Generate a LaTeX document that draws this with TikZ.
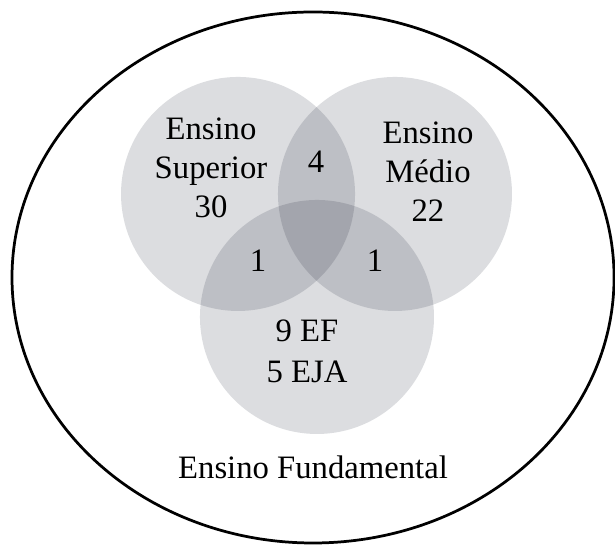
\documentclass[tikz,border=0pt]{standalone}
\usepackage{fontspec}
\setmainfont{Liberation Serif}
\usepackage{tikz}
\definecolor{venngray}{RGB}{5,12,33}

\begin{document}
\begin{tikzpicture}[
	conj/.style={fill=venngray, fill opacity=0.14},
	rotulo/.style={align=center, anchor=base, font=\fontsize{15.5}{18.5}\selectfont}
	]
	\useasboundingbox (0,0) rectangle (10.25,9.1);
	\coordinate (O) at (5.217,4.475);
	\coordinate (S) at (3.967,5.867);
	\coordinate (M) at (6.583,5.867);
	\coordinate (F) at (5.283,3.817);
	
	\draw[line width=1.3pt] (O) ellipse [x radius=5.017, y radius=4.425];
	
	\fill[conj] (S) circle (1.95);
	\fill[conj] (M) circle (1.95);
	\fill[conj] (F) circle (1.95);
	
	\node (sup) at (3.517,5.467) [rotulo] {Ensino\\Superior\\30};
	\node (med) at (7.133,5.4) [rotulo] {Ensino\\Médio\\22};
	\node (sm) at (5.267,6.233) [rotulo] {4};
	\node (sf) at (4.3,4.567) [rotulo] {1};
	\node (mf) at (6.25,4.567) [rotulo] {1};
	\node (fund) at (5.117,2.717) [rotulo, font=\fontsize{15.5}{19.5}\selectfont] {9 EF\\5 EJA};
	\node (tit) at (5.217,1.133) [rotulo] {Ensino Fundamental};
\end{tikzpicture}
\end{document}
